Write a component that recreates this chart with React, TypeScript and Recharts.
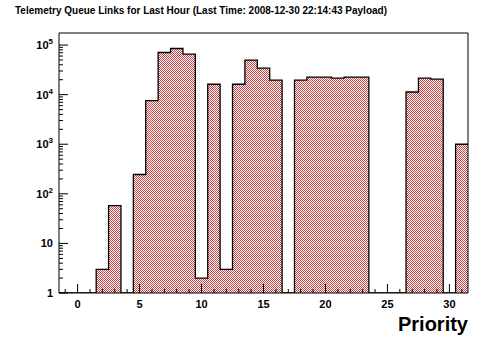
import { ComposedChart, Area, XAxis, YAxis, ReferenceArea } from 'recharts';

// bin centres (priority) and entries per bin
const priorities = [-1, 0, 1, 2, 3, 4, 5, 6, 7, 8, 9, 10, 11, 12, 13, 14, 15, 16, 17, 18, 19, 20, 21, 22, 23, 24, 25, 26, 27, 28, 29, 30, 31];
const counts = [0, 0, 0, 3, 58, 0, 245, 7560, 70800, 85300, 65700, 2, 16200, 3, 16200, 49700, 34200, 19600, 0, 19600, 22500, 22500, 21500, 22500, 22500, 0, 0, 0, 11300, 21500, 20500, 0, 1000];

const xTicks = priorities;
const xLabels = [0, 5, 10, 15, 20, 25, 30];
const decades = [1, 10, 100, 1000, 10000, 100000];
const yTicks = [1, 2, 3, 4, 5, 6, 7, 8, 9, 10, 20, 30, 40, 50, 60, 70, 80, 90, 100, 200, 300, 400, 500, 600, 700, 800, 900, 1000, 2000, 3000, 4000, 5000, 6000, 7000, 8000, 9000, 10000, 20000, 30000, 40000, 50000, 60000, 70000, 80000, 90000, 100000];

// step table: each bin starts at its lower edge, empty bins sit on the axis floor
const table = priorities.map((p, i) => ({ x: p - 0.5, y: Math.max(counts[i], 1) }));
table.push({ x: priorities[priorities.length - 1] + 0.5, y: Math.max(counts[counts.length - 1], 1) });

const font = '"Liberation Sans", Arial, sans-serif';

const XTick = (props: any) => {
  const { x, y, payload } = props;
  const v = payload.value;
  const major = xLabels.includes(v);
  return (
    <g>
      <line x1={x} x2={x} y1={y} y2={y - (major ? 9 : 4)} stroke="#000" />
      {major && (
        <text x={x} y={y + 15} textAnchor="middle" fontFamily={font} fontWeight="bold" fontSize={11} fill="#000">
          {v}
        </text>
      )}
    </g>
  );
};

const YTick = (props: any) => {
  const { x, y, payload } = props;
  const v = payload.value;
  const major = decades.includes(v);
  const exp = Math.round(Math.log10(v));
  return (
    <g>
      <line x1={x} x2={x + (major ? 9 : 4)} y1={y} y2={y} stroke="#000" />
      {major && (
        exp < 2 ? (
          <text x={x - 6} y={y + 4} textAnchor="end" fontFamily={font} fontWeight="bold" fontSize={11} fill="#000">
            {v}
          </text>
        ) : (
          <text x={x - 6} y={y + 4} textAnchor="end" fontFamily={font} fontWeight="bold" fontSize={11} fill="#000">
            10<tspan fontSize={8} dy={-5}>{exp}</tspan>
          </text>
        )
      )}
    </g>
  );
};

export default function App() {
  return (
    <div style={{ position: 'absolute', left: 0, top: 0, width: 492, height: 344, background: '#fff' }}>
      <div style={{ position: 'absolute', left: 15, top: 5, fontFamily: font, fontWeight: 'bold', fontSize: 10, whiteSpace: 'nowrap' }}>
        Telemetry Queue Links for Last Hour (Last Time: 2008-12-30 22:14:43 Payload)
      </div>
      <ComposedChart width={492} height={344} data={table} margin={{ top: 33, right: 24, bottom: 0, left: 0 }}>
        <defs>
          <pattern id="hatch" width="2" height="2" patternUnits="userSpaceOnUse">
            <rect width="2" height="2" fill="#fff" />
            <rect width="1" height="1" fill="#c84444" />
            <rect x="1" y="1" width="1" height="1" fill="#c84444" />
          </pattern>
        </defs>
        <XAxis
          dataKey="x"
          type="number"
          domain={[-1.5, 31.5]}
          ticks={xTicks}
          interval={0}
          tickSize={0}
          tickMargin={0}
          tick={<XTick />}
          axisLine={false}
          height={51}
        />
        <YAxis
          type="number"
          scale="log"
          domain={[1, 175000]}
          allowDataOverflow
          ticks={yTicks}
          interval={0}
          tickSize={0}
          tickMargin={0}
          tick={<YTick />}
          axisLine={false}
          width={59}
        />
        <Area
          type="stepAfter"
          dataKey="y"
          stroke="#000"
          strokeWidth={1.3}
          fill="url(#hatch)"
          fillOpacity={1}
          isAnimationActive={false}
          dot={false}
          activeDot={false}
        />
        <ReferenceArea x1={-1.5} x2={31.5} y1={1} y2={175000} fill="none" stroke="#000" strokeWidth={1} />
      </ComposedChart>
      <div style={{ position: 'absolute', right: 24, top: 313, fontFamily: font, fontWeight: 'bold', fontSize: 20, whiteSpace: 'nowrap' }}>
        Priority
      </div>
    </div>
  );
}
